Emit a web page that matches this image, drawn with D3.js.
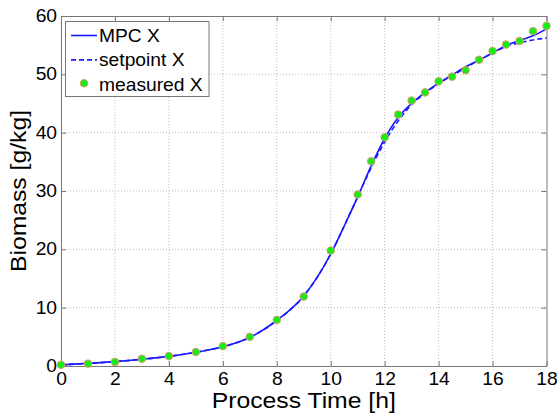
<!DOCTYPE html>
<html>
<head>
<meta charset="utf-8">
<script src="https://cdn.jsdelivr.net/npm/d3@7"></script>
<style>
  body { margin: 0; background: #fff; }
  svg { display: block; font-family: "Liberation Sans", Arial, sans-serif; }
</style>
</head>
<body>
<div id="chart"></div>
<script>
  // process time [h] for the simulated curves
  var mpcTime = [0, 1, 2, 3, 4, 5, 6, 7, 8, 9, 10, 10.5, 11, 11.5, 12, 12.5, 13, 13.5, 14, 14.5, 15, 15.5, 16, 16.5, 17, 17.5, 18];
  var mpcX = [0.2, 0.45, 0.75, 1.15, 1.65, 2.35, 3.3, 4.9, 7.8, 12.0, 19.2, 24.0, 29.0, 34.3, 39.0, 42.6, 45.0, 46.9, 48.5, 49.9, 51.3, 52.4, 53.7, 54.9, 55.8, 56.6, 57.8];
  var setpointX = [0.2, 0.45, 0.75, 1.15, 1.65, 2.35, 3.3, 4.9, 7.8, 12.0, 19.2, 24.0, 29.0, 34.0, 38.4, 42.0, 44.8, 46.8, 48.4, 49.8, 51.1, 52.5, 53.6, 54.8, 55.4, 55.9, 56.2];

  // sampled biomass
  var measTime = [0, 1, 2, 3, 4, 5, 6, 7, 8, 9, 10, 11, 11.5, 12, 12.5, 13, 13.5, 14, 14.5, 15, 15.5, 16, 16.5, 17, 17.5, 18];
  var measX = [0.2, 0.4, 0.7, 1.25, 1.7, 2.4, 3.4, 5.0, 7.9, 11.9, 19.8, 29.4, 35.1, 39.2, 43.1, 45.5, 46.9, 48.8, 49.6, 50.7, 52.5, 54.0, 55.1, 55.7, 57.4, 58.3];

  var xTicks = [0, 2, 4, 6, 8, 10, 12, 14, 16, 18];
  var yTicks = [0, 10, 20, 30, 40, 50, 60];
  var legendLabels = ['MPC X', 'setpoint X', 'measured X'];

  var width = 558, height = 414;
  var margin = {left: 61, right: 11.5, top: 16, bottom: 48};
  var plot_w = width - margin.left - margin.right;
  var plot_h = height - margin.top - margin.bottom;
  var stretch = 'scale(1.1,1)';

  var x = d3.scaleLinear().domain([0, 18]).range([0, plot_w]);
  var y = d3.scaleLinear().domain([0, 60]).range([plot_h, 0]);

  var svg = d3.select('#chart').append('svg')
    .attr('width', width)
    .attr('height', height);

  var g = svg.append('g')
    .attr('transform', 'translate(' + margin.left + ',' + margin.top + ')');

  // dotted grid
  g.append('g').selectAll('line')
    .data(xTicks.slice(1, -1))
    .enter().append('line')
    .attr('x1', function(d) { return x(d); })
    .attr('x2', function(d) { return x(d); })
    .attr('y1', 0).attr('y2', plot_h)
    .style('stroke', '#bdbdbd').style('stroke-dasharray', '1,2');
  g.append('g').selectAll('line')
    .data(yTicks.slice(1, -1))
    .enter().append('line')
    .attr('y1', function(d) { return y(d); })
    .attr('y2', function(d) { return y(d); })
    .attr('x1', 0).attr('x2', plot_w)
    .style('stroke', '#bdbdbd').style('stroke-dasharray', '1,2');

  // axes, ticks pointing inward
  var xAxis = g.append('g')
    .attr('transform', 'translate(0,' + plot_h + ')')
    .call(d3.axisBottom(x).tickValues(xTicks).tickSizeInner(-5).tickSizeOuter(0).tickPadding(7));
  var yAxis = g.append('g')
    .call(d3.axisLeft(y).tickValues(yTicks).tickSizeInner(-5).tickSizeOuter(0).tickPadding(3.6));
  g.append('g')
    .call(d3.axisTop(x).tickValues(xTicks).tickSizeInner(-5).tickSizeOuter(0).tickFormat(''));
  g.append('g')
    .attr('transform', 'translate(' + plot_w + ',0)')
    .call(d3.axisRight(y).tickValues(yTicks).tickSizeInner(-5).tickSizeOuter(0).tickFormat(''));

  g.selectAll('.domain').style('stroke', '#777');
  g.selectAll('.tick line').style('stroke', '#777');
  [xAxis, yAxis].forEach(function(a) {
    a.selectAll('text')
      .attr('transform', stretch)
      .style('font-size', '17.5px')
      .style('fill', '#000')
      .style('font-family', '"Liberation Sans", Arial, sans-serif');
  });

  var line = d3.line()
    .x(function(d) { return x(d[0]); })
    .y(function(d) { return y(d[1]); })
    .curve(d3.curveMonotoneX);

  g.append('path')
    .datum(d3.zip(mpcTime, setpointX))
    .attr('d', line)
    .style('fill', 'none').style('stroke', '#1a1aff')
    .style('stroke-width', 1.6).style('stroke-dasharray', '5,3');

  g.append('path')
    .datum(d3.zip(mpcTime, mpcX))
    .attr('d', line)
    .style('fill', 'none').style('stroke', '#1a1aff')
    .style('stroke-width', 1.6);

  g.append('g').selectAll('circle')
    .data(d3.zip(measTime, measX))
    .enter().append('circle')
    .attr('cx', function(d) { return x(d[0]); })
    .attr('cy', function(d) { return y(d[1]); })
    .attr('r', 3.8)
    .style('fill', '#14ee14')
    .style('stroke', '#e59a78')
    .style('stroke-width', 1);

  // legend
  var legend = svg.append('g');
  legend.append('rect')
    .attr('x', 65.5).attr('y', 21.5)
    .attr('width', 143.5).attr('height', 75)
    .style('fill', '#fff').style('stroke', '#777');

  var rows = legend.selectAll('g.row')
    .data(legendLabels)
    .enter().append('g')
    .attr('class', 'row')
    .attr('transform', function(d, i) { return 'translate(0,' + (35.5 + i * 24.4) + ')'; });

  rows.append('text')
    .attr('transform', function() { return 'translate(99,6.3) ' + stretch; })
    .style('font-size', '17.5px')
    .text(function(d) { return d; });

  rows.filter(function(d, i) { return i < 2; })
    .append('line')
    .attr('x1', 71).attr('x2', 97).attr('y1', 0).attr('y2', 0)
    .style('stroke', '#1a1aff').style('stroke-width', 1.6)
    .style('stroke-dasharray', function(d, i) { return i === 1 ? '5,3' : null; });

  rows.filter(function(d, i) { return i === 2; })
    .append('circle')
    .attr('cx', 84).attr('cy', -1).attr('r', 3.8)
    .style('fill', '#14ee14').style('stroke', '#e59a78');

  // axis titles
  svg.append('text')
    .attr('transform', 'translate(' + (margin.left + plot_w / 2) + ',408) ' + stretch)
    .attr('text-anchor', 'middle')
    .style('font-size', '22.5px')
    .text('Process Time [h]');

  svg.append('text')
    .attr('transform', 'translate(26,' + (margin.top + plot_h / 2) + ') rotate(-90) ' + stretch)
    .attr('text-anchor', 'middle')
    .style('font-size', '22.5px')
    .text('Biomass [g/kg]');
</script>
</body>
</html>
